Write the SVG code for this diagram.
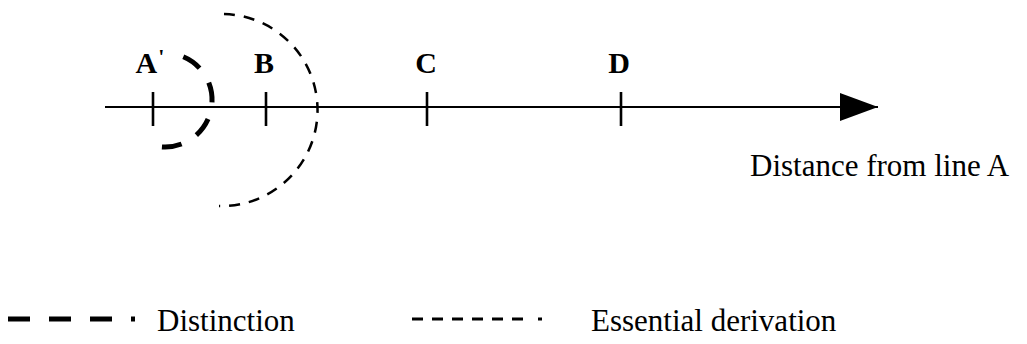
<svg xmlns="http://www.w3.org/2000/svg" width="1027" height="344" viewBox="0 0 1027 344">
  <style>
    .lbl { font-family: "Liberation Serif", "Times New Roman", serif; font-weight: bold; font-size: 30px; fill: #000; text-anchor: middle; }
    .txt { font-family: "Liberation Serif", "Times New Roman", serif; font-size: 31px; fill: #000; }
    .axis { stroke: #000; stroke-width: 2.2; fill: none; }
    .tick { stroke: #000; stroke-width: 2.6; }
    .dist { stroke: #000; stroke-width: 5; fill: none; stroke-dasharray: 20 17.3; }
    .ess { stroke: #000; stroke-width: 2.5; fill: none; stroke-dasharray: 11 9; }
  </style>
  <defs>
    <marker id="arrow" markerUnits="userSpaceOnUse" markerWidth="40" markerHeight="30" refX="38" refY="14" orient="auto">
      <path d="M0,0 L38,14 L0,28 Z" fill="#000"/>
    </marker>
  </defs>

  <g id="connectors">
    <line class="axis" x1="105" y1="107" x2="878" y2="107" marker-end="url(#arrow)"/>
    <path id="distinction-arc" class="dist" d="M 183.3,56.7 A 47 47 0 0 1 161.7,146.9"/>
    <path id="essential-arc" class="ess" d="M 224,14 A 96 96 0 0 1 219,206"/>
  </g>

  <g id="node-A">
    <line class="tick" x1="153" y1="92" x2="153" y2="126"/>
    <text class="lbl" x="150" y="73">A<tspan font-size="22" dx="1" dy="-9">'</tspan></text>
  </g>
  <g id="node-B">
    <line class="tick" x1="266" y1="92" x2="266" y2="126"/>
    <text class="lbl" x="264" y="73">B</text>
  </g>
  <g id="node-C">
    <line class="tick" x1="427" y1="92" x2="427" y2="126"/>
    <text class="lbl" x="426" y="73">C</text>
  </g>
  <g id="node-D">
    <line class="tick" x1="621" y1="92" x2="621" y2="126"/>
    <text class="lbl" x="619" y="73">D</text>
  </g>

  <g id="axis-label">
    <text class="txt" x="750" y="176" font-size="32">Distance from line A</text>
  </g>

  <g id="legend-distinction">
    <line x1="8" y1="319" x2="136" y2="319" stroke="#000" stroke-width="5" stroke-dasharray="22 19 22 19 22 19 4 100"/>
    <text class="txt" x="157" y="331">Distinction</text>
  </g>
  <g id="legend-essential">
    <line x1="412" y1="319" x2="542" y2="319" stroke="#000" stroke-width="3" stroke-dasharray="11 9 11 9 11 9 11 9 11 9 11 15 4 100"/>
    <text class="txt" x="591" y="331">Essential derivation</text>
  </g>
</svg>
